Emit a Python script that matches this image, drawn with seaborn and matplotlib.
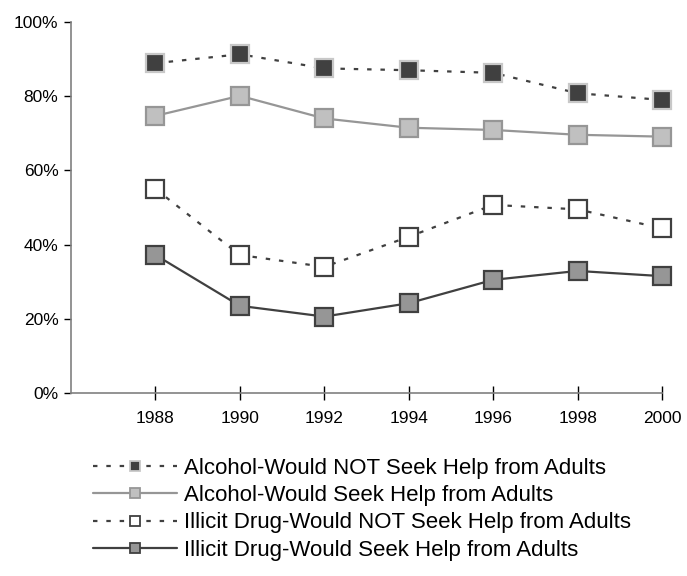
import numpy as np
import pandas as pd
import matplotlib
matplotlib.use("Agg")
from matplotlib import pyplot as plt
import seaborn as sns

years = [1988, 1990, 1992, 1994, 1996, 1998, 2000]
alcohol_not = [88.9, 91.3, 87.5, 87.0, 86.3, 80.8, 79.0]
alcohol_seek = [74.7, 80.1, 74.0, 71.5, 70.9, 69.6, 69.1]
drug_not = [55.0, 37.2, 34.0, 42.1, 50.7, 49.5, 44.4]
drug_seek = [37.2, 23.5, 20.6, 24.2, 30.5, 32.9, 31.5]

labels = ["Alcohol-Would NOT Seek Help from Adults",
          "Alcohol-Would Seek Help from Adults",
          "Illicit Drug-Would NOT Seek Help from Adults",
          "Illicit Drug-Would Seek Help from Adults"]

sns.set_style("white")
plt.rcParams['font.family'] = ['Liberation Sans', 'DejaVu Sans']
plt.rcParams['text.color'] = 'black'
plt.rcParams['xtick.color'] = 'black'
plt.rcParams['ytick.color'] = 'black'

fig = plt.figure(figsize=(6.87, 5.76), dpi=100)
ax = fig.add_axes([71/687, 1-393/576, (662-71)/687, (393-22)/576])

# style per series: line colour, dashed?, marker face, marker edge
styles = [
    ("#404040", True, "#404040", "#c8c8c8"),
    ("#969696", False, "#c0c0c0", "#969696"),
    ("#404040", True, "#ffffff", "#404040"),
    ("#404040", False, "#969696", "#404040"),
]
series = [alcohol_not, alcohol_seek, drug_not, drug_seek]

for vals, lab, (lc, dashed, mfc, mec) in zip(series, labels, styles):
    d = pd.DataFrame({"year": years, "pct": vals})
    kw = dict(dashes=(2, 4)) if dashed else {}
    sns.lineplot(data=d, x="year", y="pct", ax=ax, color=lc, lw=1.6,
                 marker="s", markersize=12.5, markerfacecolor=mfc,
                 markeredgecolor=mec, markeredgewidth=1.6, label=lab,
                 clip_on=False, **kw)

ax.set_xlim(1986, 2000)
ax.set_ylim(0, 100)
ax.set_xticks(years)
ax.set_yticks([0, 20, 40, 60, 80, 100])
ax.set_yticklabels(["0%", "20%", "40%", "60%", "80%", "100%"])
ax.set_xlabel("")
ax.set_ylabel("")
for s in ["top", "right"]:
    ax.spines[s].set_visible(False)
for s in ["left", "bottom"]:
    ax.spines[s].set_color("#808080")
    ax.spines[s].set_linewidth(1.2)
ax.tick_params(axis="y", direction="out", length=5, width=1, color="black",
               labelsize=12.5, pad=4, left=True)
ax.tick_params(axis="x", direction="inout", length=10, width=1, color="black",
               labelsize=12.5, pad=8, bottom=True)

leg = ax.legend(loc="upper left", bbox_to_anchor=(84/687, 1-449/576),
                bbox_transform=fig.transFigure, frameon=False, fontsize=16,
                handlelength=3.8, handletextpad=0.3, labelspacing=0.28,
                borderaxespad=0)
for h in leg.legend_handles:
    h.set_markersize(7.5)
    h.set_markeredgewidth(1.3)

fig.savefig("out.png", dpi=100)
